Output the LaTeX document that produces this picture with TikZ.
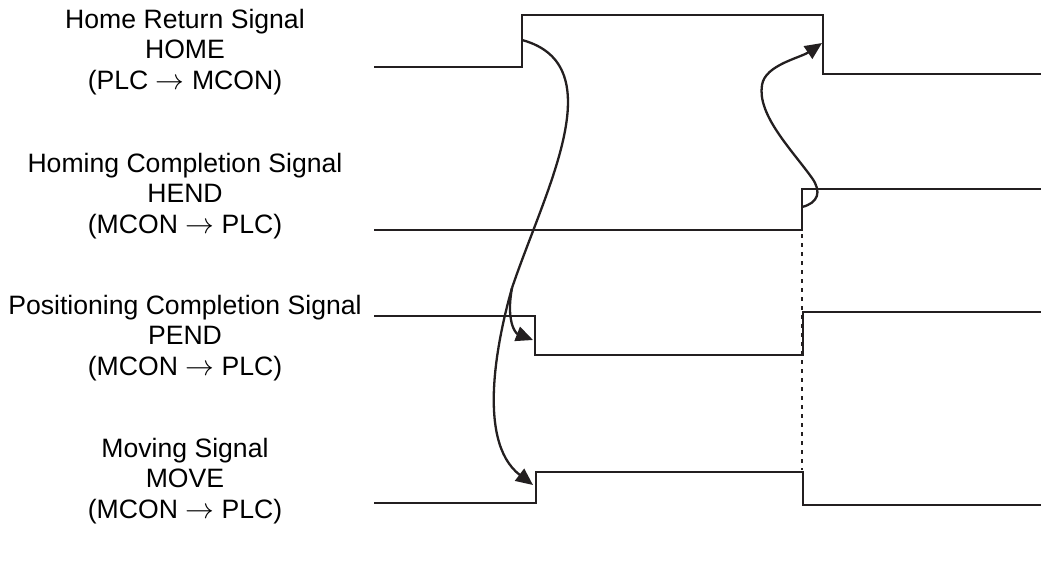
\documentclass[tikz,border=0pt]{standalone}
\usepackage{fontspec}
\setmainfont{Liberation Sans}
\usepackage{xcolor}
\usetikzlibrary{arrows.meta}
\definecolor{sigink}{RGB}{35,31,32}
\tikzset{
  sigline/.style={
    draw=sigink,
    line width=1.35pt,
    line join=miter
  },
  siglabel/.style={
    align=center,
    inner sep=0pt,
    font=\fontsize{13.3}{15.2}\selectfont,
    text=black
  },
  causearrow/.style={
    draw=sigink,
    line width=1.15pt,
    -{Triangle[length=8.5pt,width=7.5pt]}
  },
  guideline/.style={
    draw=sigink,
    line width=1.2pt,
    dash pattern=on 2pt off 2.5pt
  }
}

\begin{document}
\begin{tikzpicture}[x=0.5pt,y=-0.5pt]
\useasboundingbox (0,0) rectangle (1041,562);

% signal names
\node[siglabel] (homelbl) at (185,52) {Home Return Signal\\HOME\\(PLC $\rightarrow$ MCON)};
\node[siglabel] (hendlbl) at (185,196) {Homing Completion Signal\\HEND\\(MCON $\rightarrow$ PLC)};
\node[siglabel] (pendlbl) at (185,338) {Positioning Completion Signal\\PEND\\(MCON $\rightarrow$ PLC)};
\node[siglabel] (movelbl) at (185,481) {Moving Signal\\MOVE\\(MCON $\rightarrow$ PLC)};

% waveforms
\draw[sigline] (374,67) -- (522,67) -- (522,15) -- (823,15) -- (823,74) -- (1041,74);
\draw[sigline] (374,230) -- (802,230) -- (802,189) -- (1041,189);
\draw[sigline] (374,316) -- (535,316) -- (535,355) -- (803,355) -- (803,312) -- (1041,312);
\draw[sigline] (374,503) -- (536,503) -- (536,472) -- (803,472) -- (803,505) -- (1041,505);
\draw[guideline] (802,234) -- (802,470);

% edge points
\coordinate (homeon) at (522,40);
\coordinate (split) at (512,288);
\coordinate (pendoff) at (533,340);
\coordinate (moveon) at (533,485);
\coordinate (hendon) at (802,207);
\coordinate (homeoff) at (822,43);

% cause and effect
\draw[sigink, line width=1.15pt] (homeon) .. controls (614,65) and (545,190) .. (split);
\draw[causearrow] (split) .. controls (500,330) and (474,440) .. (moveon);
\draw[causearrow] (split) .. controls (506,320) and (515,333) .. (pendoff);
\draw[causearrow] (hendon) .. controls (818,203) and (822,192) .. (812,178)
  .. controls (792,150) and (757,115) .. (762,85)
  .. controls (765,65) and (800,58) .. (homeoff);
\end{tikzpicture}
\end{document}
